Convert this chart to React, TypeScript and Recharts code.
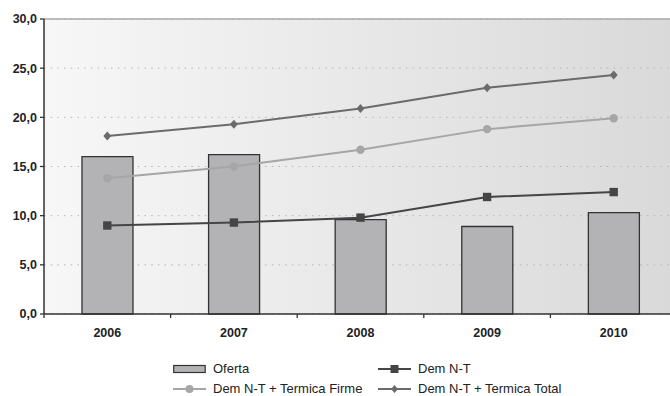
import { ComposedChart, Bar, Line, XAxis, YAxis, CartesianGrid, ReferenceLine } from 'recharts';

const years = ['2006', '2007', '2008', '2009', '2010'];
const oferta = [16.0, 16.2, 9.6, 8.9, 10.3];
const demNT = [9.0, 9.3, 9.8, 11.9, 12.4];
const termicaFirme = [13.8, 15.0, 16.7, 18.8, 19.9];
const termicaTotal = [18.1, 19.3, 20.9, 23.0, 24.3];
const yTicks = [0, 5, 10, 15, 20, 25, 30];

const data = years.map((year, i) => ({
  year,
  oferta: oferta[i],
  demNT: demNT[i],
  termicaFirme: termicaFirme[i],
  termicaTotal: termicaTotal[i],
}));

const CHART_W = 680;
const CHART_H = 344;
const MARGIN = { top: 19, right: 3, left: 0, bottom: 0 };
const Y_AXIS_W = 44;
const X_AXIS_H = 30;
const AXIS_Y = CHART_H - MARGIN.bottom - X_AXIS_H;
const BAND = (CHART_W - MARGIN.left - MARGIN.right - Y_AXIS_W) / years.length;

const FONT = '"Liberation Sans", Arial, sans-serif';
const TEXT = '#222222';

const fmt = (v: number) => v.toFixed(1).replace('.', ',');

// category label centred, tick mark at the left boundary of each band
const YearTick = (props: any) => {
  const { x, payload } = props;
  const left = x - BAND / 2;
  return (
    <g>
      <line x1={left} x2={left} y1={AXIS_Y} y2={AXIS_Y + 4} stroke="#333" strokeWidth={1.3} />
      <text x={x} y={AXIS_Y + 23} textAnchor="middle" fontFamily={FONT} fontSize={12.5} fontWeight="bold" fill={TEXT}>
        {payload.value}
      </text>
    </g>
  );
};

const SquareDot = (props: any) => {
  const { cx, cy } = props;
  if (cx == null || cy == null) return null;
  return <rect x={cx - 4.2} y={cy - 4.2} width={8.4} height={8.4} fill="#454545" />;
};

const CircleDot = (props: any) => {
  const { cx, cy } = props;
  if (cx == null || cy == null) return null;
  return <circle cx={cx} cy={cy} r={4.2} fill="#a6a6a6" />;
};

const DiamondDot = (props: any) => {
  const { cx, cy } = props;
  if (cx == null || cy == null) return null;
  return <polygon points={`${cx},${cy - 4.5} ${cx + 4},${cy} ${cx},${cy + 4.5} ${cx - 4},${cy}`} fill="#6b6b6e" />;
};

const legendItems = [
  { label: 'Oferta', kind: 'box', color: '#b3b3b6', left: 173, top: 362 },
  { label: 'Dem N-T', kind: 'square', color: '#454545', left: 378, top: 362 },
  { label: 'Dem N-T + Termica Firme', kind: 'circle', color: '#a6a6a6', left: 173, top: 382 },
  { label: 'Dem N-T + Termica Total', kind: 'diamond', color: '#6b6b6e', left: 378, top: 382 },
];

const LegendIcon = ({ kind, color }: { kind: string; color: string }) => (
  <svg width={33} height={12} style={{ display: 'block' }}>
    {kind === 'box' ? (
      <rect x={0.7} y={2.5} width={31.5} height={7} fill={color} stroke="#333" strokeWidth={1.2} />
    ) : (
      <>
        <line x1={0} x2={33} y1={6} y2={6} stroke={color} strokeWidth={2} />
        {kind === 'square' && <rect x={12.5} y={2} width={8} height={8} fill={color} />}
        {kind === 'circle' && <circle cx={16.5} cy={6} r={4} fill={color} />}
        {kind === 'diamond' && <polygon points="16.5,2 20,6 16.5,10 13,6" fill={color} />}
      </>
    )}
  </svg>
);

export default function App() {
  return (
    <div style={{ position: 'fixed', left: 0, top: 0, width: 670, height: 396, overflow: 'hidden', background: '#fff' }}>
      <ComposedChart width={CHART_W} height={CHART_H} data={data} margin={MARGIN} barCategoryGap="30%">
        <defs>
          <linearGradient id="plotBg" x1="0" y1="0" x2="1" y2="0">
            <stop offset="0%" stopColor="#f7f7f7" />
            <stop offset="100%" stopColor="#d9d9da" />
          </linearGradient>
        </defs>
        <CartesianGrid vertical={false} fill="url(#plotBg)" stroke="#b5b5b5" strokeDasharray="1.5 5.2" strokeWidth={1} />
        <ReferenceLine y={30} stroke="#a8a8a8" strokeWidth={1.3} />
        <XAxis
          dataKey="year"
          height={X_AXIS_H}
          tickLine={false}
          tick={<YearTick />}
          axisLine={{ stroke: '#333', strokeWidth: 1.5 }}
          interval={0}
        />
        <YAxis
          width={Y_AXIS_W}
          domain={[0, 30]}
          ticks={yTicks}
          tickFormatter={fmt}
          tickSize={4}
          tickMargin={3}
          tickLine={{ stroke: '#333', strokeWidth: 1.3 }}
          axisLine={{ stroke: '#333', strokeWidth: 1.5 }}
          tick={{ fontFamily: FONT, fontSize: 12.5, fontWeight: 'bold', fill: TEXT }}
        />
        <Bar dataKey="oferta" fill="#b3b3b6" stroke="#333" strokeWidth={1.3} isAnimationActive={false} />
        <Line dataKey="termicaTotal" stroke="#6b6b6e" strokeWidth={2} dot={<DiamondDot />} activeDot={false} isAnimationActive={false} />
        <Line dataKey="termicaFirme" stroke="#a6a6a6" strokeWidth={2} dot={<CircleDot />} activeDot={false} isAnimationActive={false} />
        <Line dataKey="demNT" stroke="#454545" strokeWidth={2} dot={<SquareDot />} activeDot={false} isAnimationActive={false} />
      </ComposedChart>
      {legendItems.map((item) => (
        <div
          key={item.label}
          style={{
            position: 'absolute',
            left: item.left,
            top: item.top,
            display: 'flex',
            alignItems: 'center',
            gap: 7,
            fontFamily: FONT,
            fontSize: 13,
            color: TEXT,
            whiteSpace: 'nowrap',
            lineHeight: '14px',
          }}
        >
          <LegendIcon kind={item.kind} color={item.color} />
          <span>{item.label}</span>
        </div>
      ))}
    </div>
  );
}
